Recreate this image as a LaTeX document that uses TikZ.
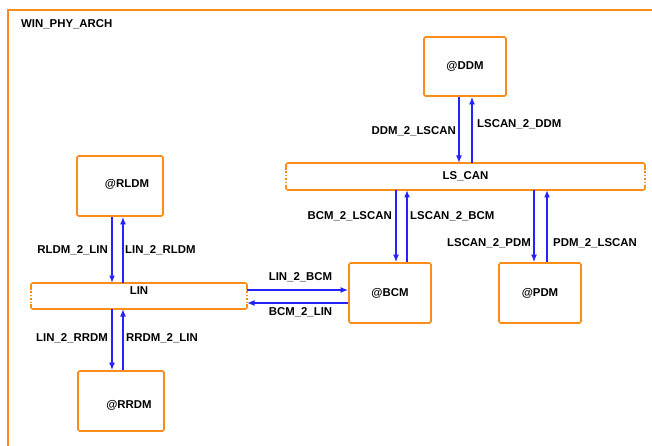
\documentclass[tikz,border=0pt]{standalone}
\usepackage{fontspec}
\setmainfont{Liberation Sans}
\usetikzlibrary{arrows.meta}
\definecolor{frameorange}{RGB}{250,140,25}
\definecolor{linkblue}{RGB}{35,35,250}
\tikzset{
  ecu/.style={draw=frameorange, line width=1.6pt, rounded corners=1.5pt, inner sep=0pt},
  busnode/.style={inner sep=0pt, outer sep=0pt},
  busline/.style={draw=frameorange, line width=1.6pt},
  busdots/.style={draw=frameorange, line width=1.6pt, dash pattern=on 1.6pt off 1.8pt},
  arr/.style={draw=linkblue, line width=1.5pt, -{Latex[length=7.5pt,width=6pt]}},
  lbl/.style={inner sep=0pt},
}
\begin{document}
\begin{tikzpicture}[x=1pt, y=-1pt, font=\bfseries\fontsize{11.4}{13}\selectfont]
\useasboundingbox (0,0) rectangle (652,446);
\clip (0,0) rectangle (652,446);

% enclosing frame, open to the right and bottom
\draw[frameorange, line width=2pt] (8,460) -- (8,10) -- (670,10);
\node[lbl, anchor=west] (title) at (21,24.5) {WIN\_PHY\_ARCH};

% control units
\node[ecu, minimum width=82, minimum height=59] (ddm) at (465,66.5) {@DDM};
\node[ecu, minimum width=86, minimum height=60, label={[xshift=7pt,yshift=2pt]center:@RLDM}] (rldm) at (120,186) {};
\node[ecu, minimum width=86, minimum height=60, label={[xshift=8pt,yshift=-4pt]center:@RRDM}] (rrdm) at (121,401) {};
\node[ecu, minimum width=82, minimum height=60] (bcm) at (390,293) {@BCM};
\node[ecu, minimum width=82, minimum height=60] (pdm) at (540,293) {@PDM};

% buses: solid top and bottom, dotted ends
\node[busnode, minimum width=359, minimum height=27] (lscan) at (465.5,176.5) {LS\_CAN};
\node[busnode, minimum width=216, minimum height=26, label={[yshift=5.5pt]center:LIN}] (lin) at (139,296) {};
\foreach \b in {lscan,lin}{
  \draw[busline, rounded corners=2pt] ([yshift=-5pt]\b.north west) -- (\b.north west) -- (\b.north east) -- ([yshift=-5pt]\b.north east);
  \draw[busline, rounded corners=2pt] ([yshift=5pt]\b.south west) -- (\b.south west) -- (\b.south east) -- ([yshift=5pt]\b.south east);
  \draw[busdots] ([yshift=-5pt]\b.north west) -- ([yshift=5pt]\b.south west);
  \draw[busdots] ([yshift=-5pt]\b.north east) -- ([yshift=5pt]\b.south east);
}

% x and y positions of the signal lines
\coordinate (xa) at (459,0);
\coordinate (xb) at (472,0);
\coordinate (xc) at (396,0);
\coordinate (xd) at (407,0);
\coordinate (xe) at (534,0);
\coordinate (xf) at (547,0);
\coordinate (xg) at (112,0);
\coordinate (xh) at (123,0);
\coordinate (ya) at (0,290);
\coordinate (yb) at (0,303);

% signals between DDM and LS_CAN
\draw[arr] (ddm.south -| xa) -- (lscan.north -| xa);
\draw[arr] (lscan.north -| xb) -- (ddm.south -| xb);
\node[lbl, anchor=east] at (456,131.5) {DDM\_2\_LSCAN};
\node[lbl, anchor=west] at (477,124.5) {LSCAN\_2\_DDM};

% signals between LS_CAN and BCM
\draw[arr] (lscan.south -| xc) -- (bcm.north -| xc);
\draw[arr] (bcm.north -| xd) -- (lscan.south -| xd);
\node[lbl, anchor=east] at (392,216.5) {BCM\_2\_LSCAN};
\node[lbl, anchor=west] at (410,216.5) {LSCAN\_2\_BCM};

% signals between LS_CAN and PDM
\draw[arr] (lscan.south -| xe) -- (pdm.north -| xe);
\draw[arr] (pdm.north -| xf) -- (lscan.south -| xf);
\node[lbl, anchor=east] at (531,243.5) {LSCAN\_2\_PDM};
\node[lbl, anchor=west] at (553,243.5) {PDM\_2\_LSCAN};

% signals between RLDM and LIN
\draw[arr] (rldm.south -| xg) -- (lin.north -| xg);
\draw[arr] (lin.north -| xh) -- (rldm.south -| xh);
\node[lbl, anchor=east] at (108,250.5) {RLDM\_2\_LIN};
\node[lbl, anchor=west] at (125,250.5) {LIN\_2\_RLDM};

% signals between LIN and RRDM
\draw[arr] (lin.south -| xg) -- (rrdm.north -| xg);
\draw[arr] (rrdm.north -| xh) -- (lin.south -| xh);
\node[lbl, anchor=east] at (108,338.5) {LIN\_2\_RRDM};
\node[lbl, anchor=west] at (126,338.5) {RRDM\_2\_LIN};

% signals between LIN and BCM
\draw[arr] (lin.east |- ya) -- (bcm.west |- ya);
\draw[arr] (bcm.west |- yb) -- (lin.east |- yb);
\node[lbl] at (300.5,277.5) {LIN\_2\_BCM};
\node[lbl] at (300.5,312.5) {BCM\_2\_LIN};
\end{tikzpicture}
\end{document}
